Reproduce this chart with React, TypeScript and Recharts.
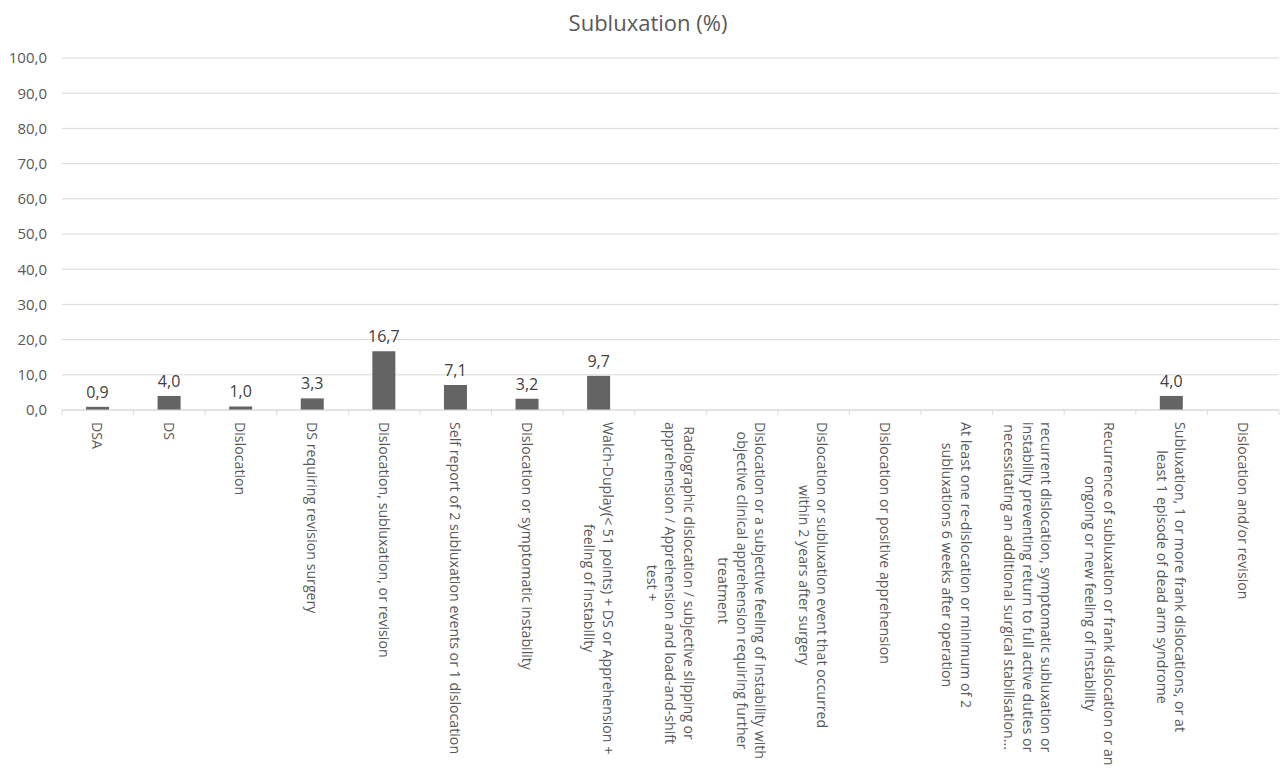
import React from 'react';
import { BarChart, Bar, XAxis, YAxis, CartesianGrid, LabelList } from 'recharts';

const categories: string[] = [
  'DSA',
  'DS',
  'Dislocation',
  'DS requiring revision surgery',
  'Dislocation, subluxation, or revision',
  'Self report of 2 subluxation events or 1 dislocation',
  'Dislocation or symptomatic instability',
  'Walch-Duplay(< 51 points) + DS or Apprehension +\nfeeling of instability',
  'Radiographic dislocation / subjective slipping or\napprehension / Apprehension and load-and-shift\ntest +',
  'Dislocation or a subjective feeling of instability with\nobjective clinical apprehension requiring further\ntreatment',
  'Dislocation or subluxation event that occurred\nwithin 2 years after surgery',
  'Dislocation or positive apprehension',
  'At least one re-dislocation or minimum of 2\nsubluxations 6 weeks after operation',
  'recurrent dislocation, symptomatic subluxation or\ninstability preventing return to full active duties or\nnecessitating an additional surgical stabilisation...',
  'Recurrence of subluxation or frank dislocation or an\nongoing or new feeling of instability',
  'Subluxation, 1 or more frank dislocations, or at\nleast 1 episode of dead arm syndrome',
  'Dislocation and/or revision',
];

const values: (number | null)[] = [0.9, 4.0, 1.0, 3.3, 16.7, 7.1, 3.2, 9.7, null, null, null, null, null, null, null, 4.0, null];

const yTicks: number[] = [0, 10, 20, 30, 40, 50, 60, 70, 80, 90, 100];

const title = 'Subluxation (%)';

const data = categories.map((c, i) => ({ name: c, value: values[i] }));

const W = 1280;
const H = 773;
const LEFT = 62;
const RIGHT_M = 1;
const BW = (W - LEFT - RIGHT_M) / categories.length;
const FONT = '"Open Sans", "Noto Sans", sans-serif';
const XFS = 14.2;

const fmt = (v: any) => (v == null ? '' : Number(v).toFixed(1).replace('.', ','));

let ctx: CanvasRenderingContext2D | null = null;
const measure = (s: string): number => {
  if (typeof document === 'undefined') return s.length * XFS * 0.5;
  if (!ctx) ctx = document.createElement('canvas').getContext('2d');
  if (!ctx) return s.length * XFS * 0.5;
  ctx.font = `${XFS}px "Open Sans"`;
  return ctx.measureText(s).width;
};

const XTick = (props: any) => {
  const { x, y, payload, index } = props;
  const lines: string[] = String(payload.value).split('\n');
  const L = 18.5;
  const n = lines.length;
  const maxW = Math.max(...lines.map(measure));
  const cx = 12 + maxW / 2;
  return (
    <g transform={`translate(${x},${y})`}>
      <line x1={-BW / 2} y1={0} x2={-BW / 2} y2={5} stroke="#d9d9d9" strokeWidth={1} />
      {index === categories.length - 1 && (
        <line x1={BW / 2} y1={0} x2={BW / 2} y2={5} stroke="#d9d9d9" strokeWidth={1} />
      )}
      <text
        transform="rotate(90)"
        fontSize={XFS}
        fontFamily={FONT}
        fill="#595959"
        textAnchor="middle"
      >
        {lines.map((ln, i) => (
          <tspan key={i} x={cx} y={(i - (n - 1) / 2) * L} dominantBaseline="central">
            {ln}
          </tspan>
        ))}
      </text>
    </g>
  );
};

export default function App() {
  return (
    <div style={{ position: 'absolute', left: 0, top: 0, width: W, height: H, background: '#fff', overflow: 'hidden' }}>
      <div
        style={{
          position: 'absolute',
          top: 7,
          left: 0,
          width: 1296,
          textAlign: 'center',
          fontFamily: FONT,
          fontSize: 22,
          color: '#595959',
          lineHeight: '30px',
        }}
      >
        {title}
      </div>
      <BarChart width={W} height={H} data={data} margin={{ top: 58, right: RIGHT_M, bottom: 0, left: 0 }}>
        <CartesianGrid horizontal vertical={false} stroke="#d9d9d9" strokeWidth={1} />
        <YAxis
          type="number"
          domain={[0, 100]}
          ticks={yTicks}
          interval={0}
          width={LEFT}
          axisLine={false}
          tickLine={false}
          tickSize={0}
          tickMargin={15}
          tickFormatter={fmt}
          tick={{ fontSize: 15, fontFamily: FONT, fill: '#595959' }}
        />
        <XAxis
          dataKey="name"
          interval={0}
          height={363}
          axisLine={{ stroke: '#d9d9d9', strokeWidth: 1 }}
          tickLine={false}
          tickSize={0}
          tickMargin={0}
          tick={<XTick />}
        />
        <Bar dataKey="value" fill="#646464" barSize={23} isAnimationActive={false}>
          <LabelList
            dataKey="value"
            position="top"
            offset={9}
            formatter={fmt}
            style={{ fontSize: 16, fontFamily: FONT, fill: '#404040' }}
          />
        </Bar>
      </BarChart>
    </div>
  );
}
